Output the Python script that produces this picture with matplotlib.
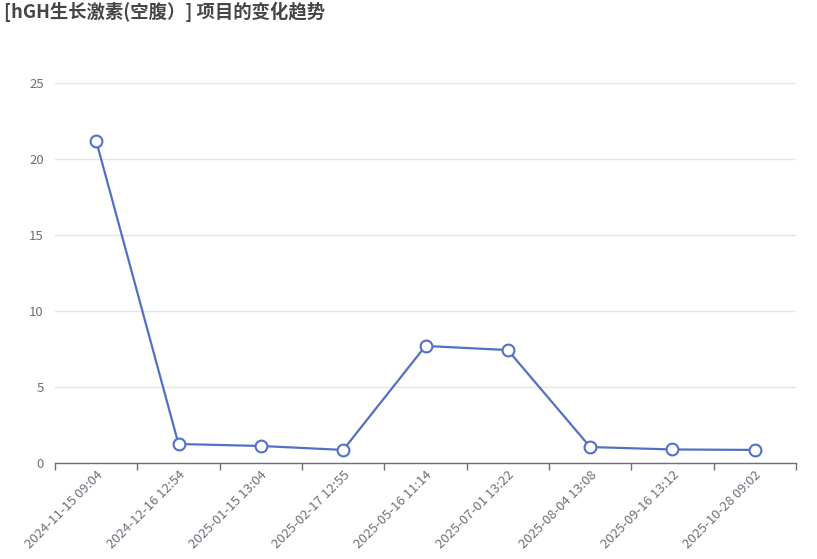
import matplotlib
matplotlib.use("Agg")
import matplotlib.pyplot as plt
from matplotlib.ticker import FixedLocator, NullFormatter

plt.rcParams['font.family'] = ['Noto Sans CJK SC', 'DejaVu Sans']

title = "[hGH生长激素(空腹）] 项目的变化趋势"
dates = [
    "2024-11-15 09:04", "2024-12-16 12:54", "2025-01-15 13:04",
    "2025-02-17 12:55", "2025-05-16 11:14", "2025-07-01 13:22",
    "2025-08-04 13:08", "2025-09-16 13:12", "2025-10-28 09:02",
]
values = [21.2, 1.25, 1.12, 0.86, 7.7, 7.43, 1.05, 0.89, 0.86]
y_ticks = [0, 5, 10, 15, 20, 25]

W, H = 817, 559
fig = plt.figure(figsize=(W / 100, H / 100), dpi=100)
left, right, top, bottom = 55, 796, 83, 463
ax = fig.add_axes([left / W, (H - bottom) / H, (right - left) / W, (bottom - top) / H])

x = list(range(len(dates)))
ax.plot(x, values, color="#5470c6", linewidth=1.6, marker="o", markersize=8.5,
        markerfacecolor="white", markeredgecolor="#5470c6", markeredgewidth=1.5,
        zorder=3, clip_on=False)

ax.set_xlim(-0.5, len(dates) - 0.5)
ax.set_ylim(0, 25)

ax.set_yticks(y_ticks)
ax.set_yticklabels([str(v) for v in y_ticks])
ax.tick_params(axis="y", length=0, pad=8, labelsize=9.5, labelcolor="#6e7079")
ax.grid(axis="y", color="#e0e6f1", linewidth=1)
ax.set_axisbelow(True)

# category labels at centres, tick marks at the category boundaries
ax.set_xticks(x)
ax.set_xticklabels(dates, rotation=45, ha="right", va="top", rotation_mode="anchor")
ax.tick_params(axis="x", which="major", length=0, pad=4, labelsize=9.5, labelcolor="#6e7079")
ax.xaxis.set_minor_locator(FixedLocator([i - 0.5 for i in range(len(dates) + 1)]))
ax.xaxis.set_minor_formatter(NullFormatter())
ax.tick_params(axis="x", which="minor", length=5, width=1, color="#6e7079")

for s in ["top", "right", "left"]:
    ax.spines[s].set_visible(False)
ax.spines["bottom"].set_color("#6e7079")
ax.spines["bottom"].set_linewidth(1)

fig.text(4 / W, 1 - 12 / H, title, fontsize=13.2, fontweight="bold", color="#464646",
         ha="left", va="center")

fig.savefig("out.png", dpi=100, facecolor="white")
